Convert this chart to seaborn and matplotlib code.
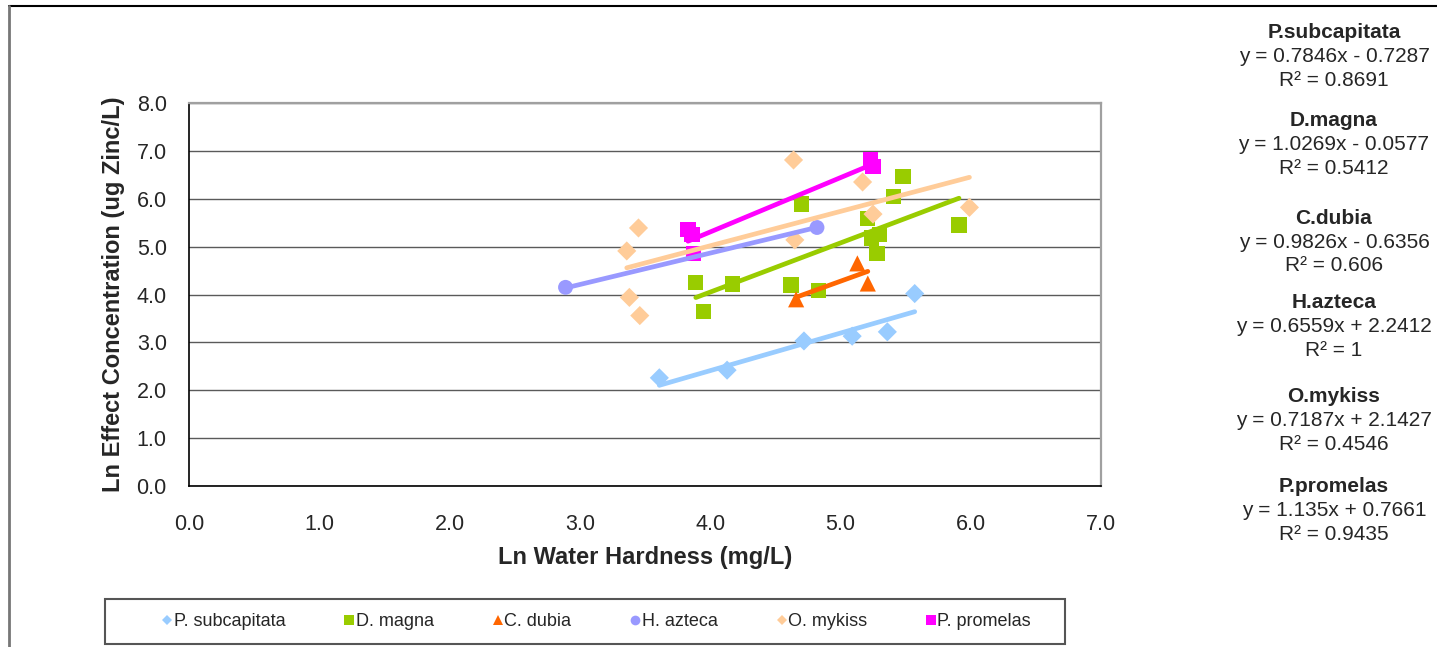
import numpy as np
import pandas as pd
import matplotlib.pyplot as plt
from matplotlib.lines import Line2D
from matplotlib.patches import Rectangle
import seaborn as sns

# ---- data (Ln hardness, Ln effect concentration) ----
species = ["P. subcapitata", "D. magna", "C. dubia", "H. azteca", "O. mykiss", "P. promelas"]

subcap_x = [3.61, 4.13, 4.72, 5.09, 5.36, 5.57]
subcap_y = [2.26, 2.42, 3.03, 3.13, 3.22, 4.02]

magna_x = [3.89, 3.95, 4.17, 4.62, 4.70, 4.83, 5.21, 5.24, 5.30, 5.28, 5.41, 5.48, 5.91]
magna_y = [4.25, 3.65, 4.22, 4.20, 5.89, 4.08, 5.59, 5.18, 5.26, 4.86, 6.04, 6.46, 5.45]

dubia_x = [4.66, 5.13, 5.21]
dubia_y = [3.90, 4.65, 4.23]

azteca_x = [2.89, 4.82]
azteca_y = [4.15, 5.40]

mykiss_x = [3.36, 3.38, 3.45, 3.46, 4.64, 4.65, 5.17, 5.25, 5.99]
mykiss_y = [4.91, 3.94, 5.39, 3.56, 6.81, 5.14, 6.35, 5.68, 5.82]

promelas_x = [3.83, 3.86, 3.87, 5.23, 5.25]
promelas_y = [5.35, 5.25, 4.86, 6.81, 6.67]

# trendline equations printed beside the chart
fit_names = ["P.subcapitata", "D.magna", "C.dubia", "H.azteca", "O.mykiss", "P.promelas"]
slopes = [0.7846, 1.0269, 0.9826, 0.6559, 0.7187, 1.135]
intercepts = [-0.7287, -0.0577, -0.6356, 2.2412, 2.1427, 0.7661]
eq_labels = ["y = 0.7846x - 0.7287", "y = 1.0269x - 0.0577", "y = 0.9826x - 0.6356",
             "y = 0.6559x + 2.2412", "y = 0.7187x + 2.1427", "y = 1.135x + 0.7661"]
r2_labels = ["0.8691", "0.5412", "0.606", "1", "0.4546", "0.9435"]

xs = [subcap_x, magna_x, dubia_x, azteca_x, mykiss_x, promelas_x]
ys = [subcap_y, magna_y, dubia_y, azteca_y, mykiss_y, promelas_y]

df = pd.concat([pd.DataFrame({"x": x, "y": y, "species": s})
                for s, x, y in zip(species, xs, ys)], ignore_index=True)

colors = {"P. subcapitata": "#99CCFF", "D. magna": "#99CC00", "C. dubia": "#FF6600",
          "H. azteca": "#9999FF", "O. mykiss": "#FFCC99", "P. promelas": "#FF00FF"}
markers = {"P. subcapitata": "D", "D. magna": "s", "C. dubia": "^",
           "H. azteca": "o", "O. mykiss": "D", "P. promelas": "s"}
msizes = {"P. subcapitata": 95, "D. magna": 120, "C. dubia": 135,
          "H. azteca": 115, "O. mykiss": 95, "P. promelas": 120}

sns.set_theme(style="white")
plt.rcParams['font.family'] = ['Liberation Sans', 'DejaVu Sans']

fig = plt.figure(figsize=(14.37, 6.47), dpi=100)
ax = fig.add_axes([0.1315, 0.2488, 0.6347, 0.592])

sns.scatterplot(data=df, x="x", y="y", hue="species", style="species", size="species",
                palette=colors, markers=markers, sizes=msizes, linewidth=0,
                legend=False, ax=ax, zorder=3)

# trendlines over the x range of each series
for s, x, m, b in zip(species, xs, slopes, intercepts):
    xr = np.array([min(x), max(x)])
    ax.plot(xr, m * xr + b, color=colors[s], lw=3.4, solid_capstyle="round", zorder=4)

ax.set_xlim(0, 7)
ax.set_ylim(0, 8)
ax.set_xticks(np.arange(0, 7.1, 1.0))
ax.set_yticks(np.arange(0, 8.1, 1.0))
ax.xaxis.set_major_formatter(plt.FormatStrFormatter("%.1f"))
ax.yaxis.set_major_formatter(plt.FormatStrFormatter("%.1f"))
ax.tick_params(axis="x", direction="out", length=5, width=1, color="black", pad=15, labelsize=15.5)
ax.tick_params(axis="y", direction="out", length=5, width=1, color="black", pad=11, labelsize=15.5)
ax.grid(axis="y", color="#5a5a5a", lw=1.0)
ax.set_axisbelow(True)
for side in ["left", "bottom"]:
    ax.spines[side].set_color("black")
    ax.spines[side].set_linewidth(1.2)
for side in ["top", "right"]:
    ax.spines[side].set_color("#a0a0a0")
    ax.spines[side].set_linewidth(1.6)

ax.set_xlabel("Ln Water Hardness (mg/L)", fontsize=17, fontweight="bold", labelpad=8)
ax.set_ylabel("Ln Effect Concentration (ug Zinc/L)", fontsize=17, fontweight="bold", labelpad=8)

# outer chart-area frame (partly clipped)
W, H = 1437, 647
fig.add_artist(Line2D([9 / W, 1.0], [1 - 6 / H, 1 - 6 / H], color="black", lw=1.5))
fig.add_artist(Line2D([9 / W, 9 / W], [0.0, 1 - 6 / H], color="#777777", lw=2.0))

# legend box
fig.add_artist(Rectangle((105 / W, 1 - 644 / H), 960 / W, 45 / H, fill=False,
                         edgecolor="#555555", lw=1.5, transform=fig.transFigure))
handles = [Line2D([], [], ls="none", marker=markers[s], color=colors[s],
                  markersize=7 if markers[s] != "D" else 5.5, markeredgewidth=0)
           for s in species]
fig.legend(handles, species, loc="center", bbox_to_anchor=(597 / W, 1 - 622 / H),
           ncol=6, frameon=False, fontsize=13, handlelength=0.5, handletextpad=0.1,
           columnspacing=3.3)

# trendline equations on the right
group_tops = [33, 121, 218, 302, 397, 486]
for top, name, eq, r2 in zip(group_tops, fit_names, eq_labels, r2_labels):
    xc = 1334 / W
    fig.text(xc, 1 - top / H, name, ha="center", va="center", fontsize=15, fontweight="bold")
    fig.text(xc, 1 - (top + 24) / H, eq, ha="center", va="center", fontsize=15)
    fig.text(xc, 1 - (top + 48) / H, "R² = " + r2, ha="center", va="center", fontsize=15)

fig.savefig("out.png", dpi=100)
